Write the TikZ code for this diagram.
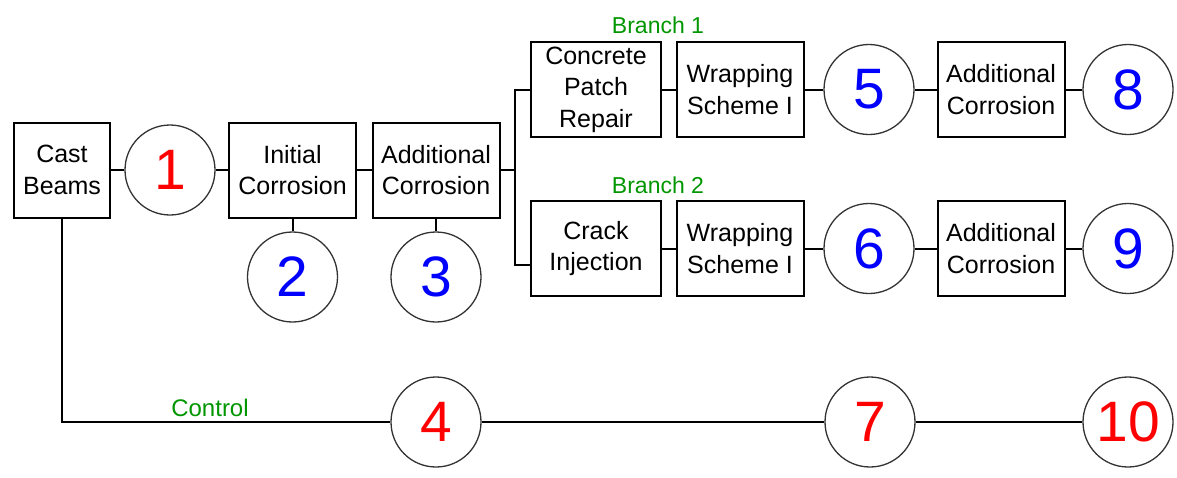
\documentclass[tikz,border=0pt]{standalone}
\usepackage{fontspec}
\setmainfont{Liberation Sans}
\usetikzlibrary{positioning}

\definecolor{specred}{RGB}{255,0,0}
\definecolor{specblue}{RGB}{0,0,255}
\definecolor{taggreen}{RGB}{0,150,0}

\tikzset{
  stage/.style={draw, line width=2pt, align=center, inner sep=0pt,
    minimum width=127pt, minimum height=95pt,
    font=\fontsize{25}{31.5}\selectfont},
  spec/.style={draw=black!80, circle, line width=1.3pt, inner sep=0pt,
    minimum size=90pt, font=\fontsize{57}{57}\selectfont},
  tag/.style={text=taggreen, inner sep=0pt, font=\fontsize{23}{23}\selectfont}
}

\begin{document}
\begin{tikzpicture}[node distance=108pt,on grid,line width=2pt]
  \useasboundingbox (0,0) rectangle (1177pt,-477pt);
  \node[stage, minimum width=96pt] (cast) at (62pt,-170pt) {Cast\\Beams};
  \node[spec, text=specred] (s1) [right=108pt of cast] {1};
  \node[stage] (init) [right=122.5pt of s1] {Initial\\Corrosion};
  \node[stage] (addc) [right=143.5pt of init] {Additional\\Corrosion};
  \node[spec, text=specblue] (s2) [below=107pt of init] {2};
  \node[spec, text=specblue] (s3) [below=107pt of addc] {3};
  \coordinate (fork) at (515pt,-170pt);

  \node[stage, minimum width=130pt] (patch) at (596pt,-89.5pt) {Concrete\\Patch\\Repair};
  \node[stage] (wrapA) [right=144pt of patch] {Wrapping\\Scheme I};
  \node[spec, text=specblue] (s5) [right=129pt of wrapA] {5};
  \node[stage] (addA) [right=132pt of s5] {Additional\\Corrosion};
  \node[spec, text=specblue] (s8) [right=127pt of addA] {8};

  \node[stage, minimum width=130pt] (crack) [below=159pt of patch] {Crack\\Injection};
  \node[stage] (wrapB) [right=144pt of crack] {Wrapping\\Scheme I};
  \node[spec, text=specblue] (s6) [right=129pt of wrapB] {6};
  \node[stage] (addB) [right=132pt of s6] {Additional\\Corrosion};
  \node[spec, text=specblue] (s9) [right=127pt of addB] {9};

  \node[spec, text=specred] (s4) [below=145pt of s3] {4};
  \node[spec, text=specred] (s7) [right=434pt of s4] {7};
  \node[spec, text=specred] (s10) [right=258pt of s7] {10};

  \node[tag] (b1) at (658pt,-25pt) {Branch 1};
  \node[tag] (b2) at (658pt,-185pt) {Branch 2};
  \node[tag, font=\fontsize{24}{24}\selectfont] (ctl) at (210pt,-408pt) {Control};

  \path
    (cast) edge (s1)
    (s1) edge (init)
    (init) edge (addc)
    (addc) edge (fork)
    (init) edge (s2)
    (addc) edge (s3)
    (patch) edge (wrapA)
    (wrapA) edge (s5)
    (s5) edge (addA)
    (addA) edge (s8)
    (crack) edge (wrapB)
    (wrapB) edge (s6)
    (s6) edge (addB)
    (addB) edge (s9)
    (s4) edge (s7)
    (s7) edge (s10);
  \draw (patch.west) -| (fork) |- ([yshift=-16.5pt]crack.west);
  \draw (cast) |- (s4);
\end{tikzpicture}
\end{document}
